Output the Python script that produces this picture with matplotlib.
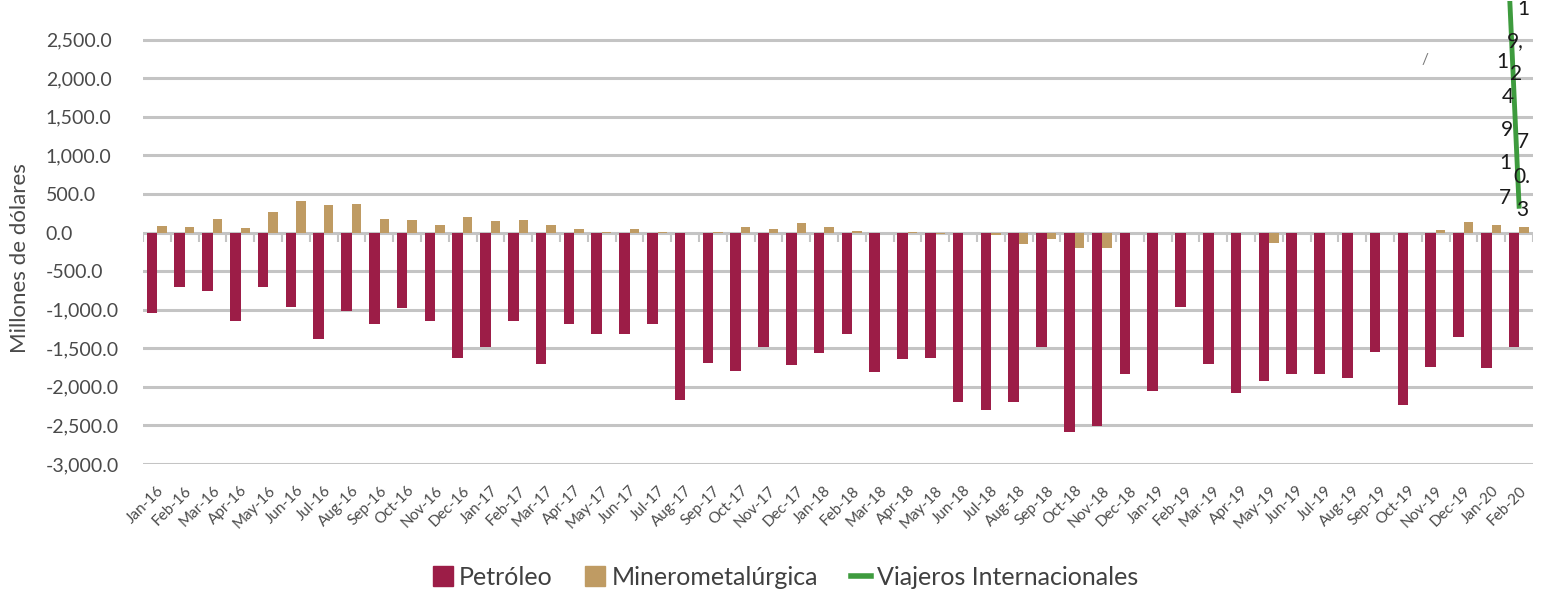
import numpy as np
import matplotlib
matplotlib.use("Agg")
import matplotlib.pyplot as plt
from matplotlib.patches import Patch
from matplotlib.lines import Line2D
from matplotlib.ticker import FuncFormatter

plt.rcParams['font.family'] = ['Lato', 'DejaVu Sans']

meses = ["Jan-16", "Feb-16", "Mar-16", "Apr-16", "May-16", "Jun-16", "Jul-16", "Aug-16",
         "Sep-16", "Oct-16", "Nov-16", "Dec-16", "Jan-17", "Feb-17", "Mar-17", "Apr-17",
         "May-17", "Jun-17", "Jul-17", "Aug-17", "Sep-17", "Oct-17", "Nov-17", "Dec-17",
         "Jan-18", "Feb-18", "Mar-18", "Apr-18", "May-18", "Jun-18", "Jul-18", "Aug-18",
         "Sep-18", "Oct-18", "Nov-18", "Dec-18", "Jan-19", "Feb-19", "Mar-19", "Apr-19",
         "May-19", "Jun-19", "Jul-19", "Aug-19", "Sep-19", "Oct-19", "Nov-19", "Dec-19",
         "Jan-20", "Feb-20"]

petroleo = [-1040, -710, -760, -1150, -700, -970, -1375, -1020, -1180, -975, -1150, -1620,
            -1490, -1150, -1700, -1180, -1310, -1310, -1180, -2170, -1690, -1790, -1480, -1720,
            -1560, -1320, -1805, -1635, -1620, -2195, -2300, -2200, -1490, -2590, -2505, -1840,
            -2055, -960, -1700, -2075, -1930, -1830, -1840, -1890, -1550, -2235, -1740, -1350,
            -1760, -1490]

minero = [90, 70, 170, 60, 270, 410, 350, 375, 170, 160, 100, 200,
          145, 165, 95, 50, 5, 40, 5, -5, 10, 70, 45, 120,
          70, 15, -10, 10, -20, -10, -30, -155, -80, -195, -195, -10,
          -5, 0, -10, 0, -130, -5, -5, -10, 0, -5, 30, 130,
          100, 75]

# viajeros internacionales: only the last segment is visible on this scale
viajeros = [np.nan] * 48 + [8300, 340]

# clipped data labels of the green series
etiquetas = ["1", "9,", "1", "2", "4", "9", "7", "1", "0.", "7", "3"]
etq_x = [49.15, 48.85, 48.4, 48.9, 48.6, 48.55, 49.15, 48.5, 49.1, 48.5, 49.1]
etq_y = [2900, 2480, 2210, 2060, 1750, 1330, 1170, 900, 720, 450, 290]

c_pet = '#9c1d47'
c_min = '#bf9b63'
c_via = '#3e9b3e'
c_grid = '#c4c4c4'
c_txt = '#4a4a4a'

x = np.arange(len(meses))

fig = plt.figure(figsize=(15.43, 5.92), dpi=100)
ax = fig.add_axes([143 / 1543, 1 - 464 / 592, 1390 / 1543, 463 / 592])

ax.bar(x - 0.18, petroleo, width=0.38, color=c_pet, zorder=3)
ax.bar(x + 0.18, minero, width=0.34, color=c_min, zorder=3)
ax.plot(x, viajeros, color=c_via, lw=3.5, zorder=4, clip_on=True)

for t, tx, ty in zip(etiquetas, etq_x, etq_y):
    ax.text(tx, ty, t, fontsize=15, color='#1a1a1a', ha='center', va='center',
            zorder=5, clip_on=True)
ax.text(45.6, 2240, "/", fontsize=11, color='#777777', ha='center', va='center')

ax.set_xlim(-0.5, len(meses) - 0.5)
ax.set_ylim(-3000, 3000)
ax.set_yticks(np.arange(-3000, 2501, 500))
ax.yaxis.set_major_formatter(FuncFormatter(lambda v, p: f"{v:,.1f}"))
ax.grid(axis='y', color=c_grid, lw=2.2, zorder=0)
ax.set_axisbelow(True)
for s in ax.spines.values():
    s.set_visible(False)

ax.tick_params(axis='y', length=0, pad=70, labelsize=14, labelcolor=c_txt)
for lbl in ax.get_yticklabels():
    lbl.set_horizontalalignment('left')
ax.set_xticks(x)
ax.set_xticklabels(meses, rotation=45, ha='right', rotation_mode='anchor',
                   fontsize=11, color=c_txt)
ax.tick_params(axis='x', length=0, pad=14)

ax.set_ylabel("Millones de dólares", fontsize=16, color=c_txt)
ax.yaxis.set_label_coords(-0.0813, 0.445)

# category tick marks under the zero line
ax.vlines(np.arange(-0.5, len(meses), 1), -125, 0, color=c_grid, lw=1.5, zorder=1)

handles = [Patch(color=c_pet), Patch(color=c_min), Line2D([], [], color=c_via, lw=4)]
fig.legend(handles, ["Petróleo", "Minerometalúrgica", "Viajeros Internacionales"],
           loc='center', bbox_to_anchor=(0.509, 0.025), ncol=3, frameon=False,
           fontsize=18, handlelength=0.8, handleheight=0.8, handletextpad=0.25,
           columnspacing=1.3, labelcolor='#404040')

fig.savefig("out.png", dpi=100)
